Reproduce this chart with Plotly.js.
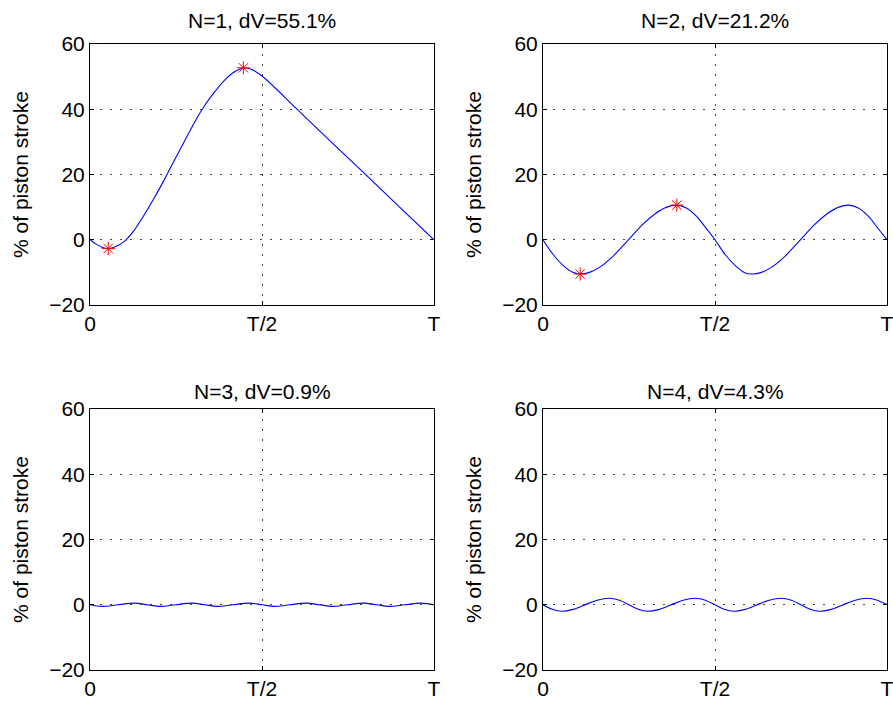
<!DOCTYPE html>
<html>
<head>
<meta charset="utf-8">
<script src="https://cdn.plot.ly/plotly-3.0.1.min.js"></script>
<style>
html,body{margin:0;padding:0;background:#fff;}
#chart{width:893px;height:704px;}
</style>
</head>
<body>
<div id="chart"></div>
<script>
// ---- data (x in fractions of the period T) ----
const xTickVals = [0, 0.5, 1];
const xTickText = ['0', 'T/2', 'T'];
const yTickVals = [-20, 0, 20, 40, 60];
const panelTitles = ['N=1, dV=55.1%', 'N=2, dV=21.2%', 'N=3, dV=0.9%', 'N=4, dV=4.3%'];
const yLabel = '% of piston stroke';

const n1x = [0, 0.02, 0.035, 0.053, 0.075, 0.1, 0.125, 0.155, 0.185, 0.215, 0.245, 0.275, 0.305, 0.33, 0.36, 0.39, 0.42, 0.446, 0.47, 0.5, 0.6, 0.7, 0.8, 0.9, 1.0];
const n1y = [0, -1.5, -2.3, -2.7, -2.1, -0.5, 2.4, 7.2, 12.5, 18.2, 24.3, 30.3, 36.2, 40.6, 45.0, 48.8, 51.5, 52.6, 52.2, 50.2, 40.2, 30.1, 20.1, 10.0, 0];
const n1mx = [0.053, 0.446];
const n1my = [-2.7, 52.7];

const n2x = [0, 0.03, 0.06, 0.085, 0.108, 0.135, 0.165, 0.2, 0.245, 0.29, 0.325, 0.36, 0.389, 0.415, 0.445, 0.475, 0.5,
             0.53, 0.56, 0.585, 0.607, 0.635, 0.665, 0.7, 0.745, 0.79, 0.825, 0.86, 0.888, 0.915, 0.945, 0.975, 1.0];
const n2y = [0, -4.6, -8.0, -9.9, -10.5, -10.0, -8.4, -5.4, -0.4, 4.7, 7.9, 10.0, 10.6, 9.8, 7.3, 3.4, 0,
             -4.6, -8.0, -10.0, -10.5, -10.0, -8.4, -5.4, -0.4, 4.7, 7.9, 10.0, 10.6, 9.8, 7.3, 3.3, 0];
const n2mx = [0.108, 0.389];
const n2my = [-10.5, 10.6];

const n3x = [0, 0.036, 0.081, 0.130, 0.1667, 0.203, 0.248, 0.296, 0.3333, 0.369, 0.415, 0.463, 0.5, 0.536, 0.581, 0.630, 0.6667, 0.703, 0.748, 0.796, 0.8333, 0.869, 0.915, 0.963, 1.0];
const n3y = [0, -0.5, 0, 0.5, 0, -0.5, 0, 0.5, 0, -0.5, 0, 0.5, 0, -0.5, 0, 0.5, 0, -0.5, 0, 0.5, 0, -0.5, 0, 0.5, 0];

const n4x = [0, 0.027, 0.054, 0.085, 0.118, 0.155, 0.193, 0.222, 0.25,
             0.277, 0.304, 0.335, 0.368, 0.405, 0.443, 0.472, 0.5,
             0.527, 0.554, 0.585, 0.618, 0.655, 0.693, 0.722, 0.75,
             0.777, 0.804, 0.835, 0.868, 0.905, 0.943, 0.972, 1.0];
const n4y = [0, -1.4, -2.0, -1.5, -0.2, 1.3, 2.0, 1.4, 0,
             -1.4, -2.0, -1.5, -0.2, 1.3, 2.0, 1.4, 0,
             -1.4, -2.0, -1.5, -0.2, 1.3, 2.0, 1.4, 0,
             -1.4, -2.0, -1.5, -0.2, 1.3, 2.0, 1.4, 0];

// ---- styling ----
const W = 893, H = 704;
const FONT = 'Liberation Sans, Arial, Helvetica, sans-serif';
const FS = 21;
const colDom = [[90 / W, 434 / W], [543 / W, 887 / W]];
const rowDom = [[1 - 305 / H, 1 - 44 / H], [1 - 670 / H, 1 - 409 / H]];

function lineTrace(x, y, k) {
  return {x: x, y: y, type: 'scatter', mode: 'lines',
    line: {color: '#0000ff', width: 1.1, shape: 'spline', smoothing: 1},
    xaxis: 'x' + (k === 1 ? '' : k), yaxis: 'y' + (k === 1 ? '' : k),
    hoverinfo: 'skip', showlegend: false};
}
function markTrace(x, y, k) {
  return {x: x, y: y, type: 'scatter', mode: 'markers',
    marker: {symbol: 'asterisk-open', size: 11, color: '#ff0000', line: {color: '#ff0000', width: 1}},
    xaxis: 'x' + (k === 1 ? '' : k), yaxis: 'y' + (k === 1 ? '' : k),
    hoverinfo: 'skip', showlegend: false};
}

const data = [
  lineTrace(n1x, n1y, 1), markTrace(n1mx, n1my, 1),
  lineTrace(n2x, n2y, 2), markTrace(n2mx, n2my, 2),
  lineTrace(n3x, n3y, 3),
  lineTrace(n4x, n4y, 4)
];

const common = {
  showline: true, linecolor: '#000', linewidth: 1, mirror: 'ticks',
  ticks: 'inside', ticklen: 4, tickwidth: 1, tickcolor: '#000',
  showgrid: true, gridcolor: '#444', gridwidth: 1, griddash: '1.5px,8.5px',
  zeroline: false, fixedrange: true, ticklabeloverflow: 'allow',
  tickfont: {family: FONT, size: FS, color: '#000'}
};

const layout = {
  width: W, height: H,
  margin: {l: 0, r: 0, t: 0, b: 0},
  paper_bgcolor: '#fff', plot_bgcolor: '#fff',
  font: {family: FONT, size: FS, color: '#000'},
  showlegend: false,
  annotations: []
};

for (let k = 1; k <= 4; k++) {
  const r = k <= 2 ? 0 : 1;
  const c = (k - 1) % 2;
  const sx = k === 1 ? '' : k;
  layout['xaxis' + sx] = Object.assign({}, common, {
    domain: colDom[c], range: [0, 1], tickvals: xTickVals, ticktext: xTickText,
    anchor: 'y' + sx
  });
  layout['yaxis' + sx] = Object.assign({}, common, {
    domain: rowDom[r], range: [-20, 60], tickvals: yTickVals,
    anchor: 'x' + sx,
    title: {text: yLabel, font: {family: FONT, size: FS, color: '#000'}, standoff: 14}
  });
  layout.annotations.push({
    text: panelTitles[k - 1], xref: 'paper', yref: 'paper',
    x: (colDom[c][0] + colDom[c][1]) / 2,
    y: r === 0 ? 1 - 20 / H : 1 - 391 / H,
    xanchor: 'center', yanchor: 'middle', showarrow: false,
    font: {family: FONT, size: FS, color: '#000'}
  });
}

Plotly.newPlot('chart', data, layout, {staticPlot: true, displayModeBar: false});
</script>
</body>
</html>
